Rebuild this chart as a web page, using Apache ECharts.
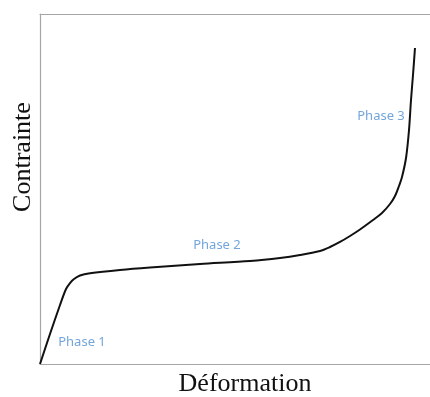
<!DOCTYPE html>
<html>
<head>
<meta charset="utf-8">
<script src="https://cdn.jsdelivr.net/npm/echarts@6/dist/echarts.min.js"></script>
<style>
  html, body { margin: 0; padding: 0; background: #fff; }
  #chart { width: 430px; height: 397px; }
</style>
</head>
<body>
<div id="chart"></div>
<script>
// Stress–strain curve (arbitrary units, 0–100 on both axes)
const deformation = [0, 2.56, 5.13, 6.67, 7.69, 8.72, 10.26, 12.82, 20.51, 28.21, 41.03, 53.85, 61.54, 66.67, 71.79, 74.36, 76.92, 79.49, 82.05, 85.38, 87.69, 89.74, 91.03, 92.05, 92.82, 93.85, 94.62, 95.13, 95.64, 96.15];
const contrainte  = [0, 8.57, 16.86, 21.43, 23.14, 24.29, 25.29, 25.91, 26.86, 27.57, 28.57, 29.43, 30.29, 31.14, 32.29, 33.43, 34.86, 36.57, 38.43, 41.14, 43.14, 45.71, 48.0, 50.86, 53.43, 58.86, 66.86, 75.43, 82.57, 90.29];

// Phase annotations
const phaseNames = ['Phase 1', 'Phase 2', 'Phase 3'];
const phaseX = [10.77, 45.38, 87.44];
const phaseY = [6.29, 34.0, 70.86];

const xTitle = 'Déformation';
const yTitle = 'Contrainte';

const frameLine = { show: true, lineStyle: { color: '#a6a6a6', width: 1.2 } };
const hidden = { show: false };

const chart = echarts.init(document.getElementById('chart'));

chart.setOption({
  animation: false,
  backgroundColor: '#ffffff',
  grid: { left: 40, right: 0, top: 14, bottom: 33 },
  xAxis: [
    {
      type: 'value', min: 0, max: 100, position: 'bottom',
      axisLine: frameLine, axisTick: hidden, axisLabel: hidden, splitLine: hidden
    },
    {
      type: 'value', min: 0, max: 100, position: 'top',
      axisLine: frameLine, axisTick: hidden, axisLabel: hidden, splitLine: hidden
    }
  ],
  yAxis: {
    type: 'value', min: 0, max: 100,
    axisLine: frameLine, axisTick: hidden, axisLabel: hidden, splitLine: hidden
  },
  graphic: [
    {
      type: 'text', x: 245, y: 384,
      style: {
        text: xTitle, font: '26px "Liberation Serif", "Times New Roman", serif',
        fill: '#111', align: 'center', verticalAlign: 'middle'
      }
    },
    {
      type: 'text', x: 23, y: 157, rotation: Math.PI / 2,
      style: {
        text: yTitle, font: '26px "Liberation Serif", "Times New Roman", serif',
        fill: '#111', align: 'center', verticalAlign: 'middle'
      }
    }
  ],
  series: [
    {
      type: 'line',
      data: deformation.map((x, i) => [x, contrainte[i]]),
      smooth: 0.3,
      showSymbol: false,
      lineStyle: { color: '#111', width: 2 }
    },
    {
      type: 'scatter',
      symbolSize: 0,
      data: phaseNames.map((n, i) => ({ name: n, value: [phaseX[i], phaseY[i]] })),
      label: {
        show: true, position: 'inside', formatter: p => p.name,
        color: '#4f8fd2', fontSize: 13, fontFamily: '"Noto Sans", "Open Sans", sans-serif'
      }
    }
  ]
});
</script>
</body>
</html>
